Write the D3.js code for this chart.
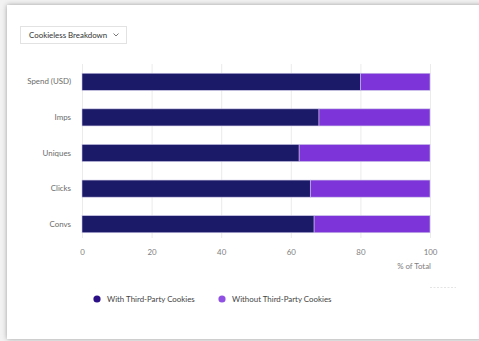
<!DOCTYPE html>
<html>
<head>
<meta charset="utf-8">
<script src="https://cdn.jsdelivr.net/npm/d3@7"></script>
<style>
  html, body { margin: 0; padding: 0; background: #f3f3f3; }
  svg { display: block; font-family: Lato, "Open Sans", sans-serif; }
</style>
</head>
<body>
<svg id="chart" width="479" height="341"></svg>
<script>
// Metrics and their share of total with / without third-party cookies
const metrics = ["Spend (USD)", "Imps", "Uniques", "Clicks", "Convs"];
const withCookies = [80, 68.1, 62.4, 65.6, 66.7];
const withoutCookies = [20, 31.9, 37.6, 34.4, 33.3];
const seriesNames = ["With Third-Party Cookies", "Without Third-Party Cookies"];
const xTicks = [0, 20, 40, 60, 80, 100];

const barColors = ["#1b1a68", "#7d35d9"];
const legendColors = ["#2a0f86", "#9150e4"];
const fontStack = "Lato, 'Open Sans', sans-serif";
const fs = 7.9;

const svg = d3.select("#chart");

// card with soft shadow
const defs = svg.append("defs");
const f = defs.append("filter").attr("id", "shadow").attr("x", "-10%").attr("y", "-10%").attr("width", "120%").attr("height", "120%");
f.append("feDropShadow").attr("dx", 0).attr("dy", 0).attr("stdDeviation", 2.5).attr("flood-color", "#000").attr("flood-opacity", 0.35);

svg.append("rect").attr("width", 479).attr("height", 341).attr("fill", "#f2f2f2");
svg.append("rect")
  .attr("x", 7).attr("y", 5).attr("width", 490).attr("height", 334)
  .attr("fill", "#fff").attr("filter", "url(#shadow)");

// dropdown
const dd = svg.append("g");
dd.append("rect").attr("x", 20.5).attr("y", 26.5).attr("width", 106).attr("height", 17)
  .attr("fill", "#fff").attr("stroke", "#e2e2e2");
dd.append("text").attr("x", 29).attr("y", 38.2).attr("font-size", fs).attr("fill", "#333")
  .text("Cookieless Breakdown");
dd.append("path").attr("d", "M113.5,33.5 L116,36 L118.5,33.5")
  .attr("fill", "none").attr("stroke", "#555").attr("stroke-width", 0.8);

const x = d3.scaleLinear().domain([0, 100]).range([82, 430]);
const y = d3.scaleBand().domain(metrics).range([64, 242]).paddingInner(0.52).paddingOuter(0.26);

// grid lines
svg.append("g").selectAll("line").data(xTicks).join("line")
  .attr("x1", d => x(d) + 0.5).attr("x2", d => x(d) + 0.5)
  .attr("y1", 64).attr("y2", 238)
  .attr("stroke", "#ebebeb").attr("stroke-width", 1);

// x axis tick labels
const xAxis = d3.axisBottom(x).tickValues(xTicks).tickSize(0).tickPadding(0);
const gx = svg.append("g").attr("transform", "translate(0,249)").call(xAxis);
gx.select(".domain").remove();
gx.selectAll("text").attr("font-size", fs).attr("fill", "#808080").attr("font-family", fontStack);

svg.append("text").attr("x", 431).attr("y", 268.5).attr("text-anchor", "end")
  .attr("font-size", fs).attr("fill", "#808080").text("% of Total");

// y axis labels
const yAxis = d3.axisLeft(y).tickSize(0).tickPadding(11);
const gy = svg.append("g").attr("transform", "translate(82,0)").call(yAxis);
gy.select(".domain").remove();
gy.selectAll("text").attr("font-size", fs).attr("fill", "#6b6b6b").attr("font-family", fontStack);

// stacked bars
const rows = metrics.map((m, i) => ({ metric: m, a: withCookies[i], b: withoutCookies[i] }));
const stack = d3.stack().keys(["a", "b"])(rows);
svg.append("g").selectAll("g").data(stack).join("g")
  .attr("fill", (d, i) => barColors[i])
  .selectAll("rect").data(d => d).join("rect")
  .attr("x", d => x(d[0]))
  .attr("y", d => y(d.data.metric))
  .attr("width", d => x(Math.min(d[1], 100)) - x(d[0]))
  .attr("height", y.bandwidth())
  .attr("stroke", "#c9c3e6").attr("stroke-width", 0.6);

// legend
const lg = svg.append("g").attr("transform", "translate(97,299)");
const items = lg.selectAll("g").data(seriesNames).join("g")
  .attr("transform", (d, i) => `translate(${i * 125},0)`);
items.append("circle").attr("r", 3.6).attr("fill", (d, i) => legendColors[i]);
items.append("text").attr("x", 10).attr("y", 2.8).attr("font-size", fs).attr("fill", "#444").text(d => d);

// faint footer mark
svg.append("line").attr("x1", 430).attr("x2", 456).attr("y1", 287.5).attr("y2", 287.5)
  .attr("stroke", "#e4e4e4").attr("stroke-dasharray", "2,1.5");
</script>
</body>
</html>
